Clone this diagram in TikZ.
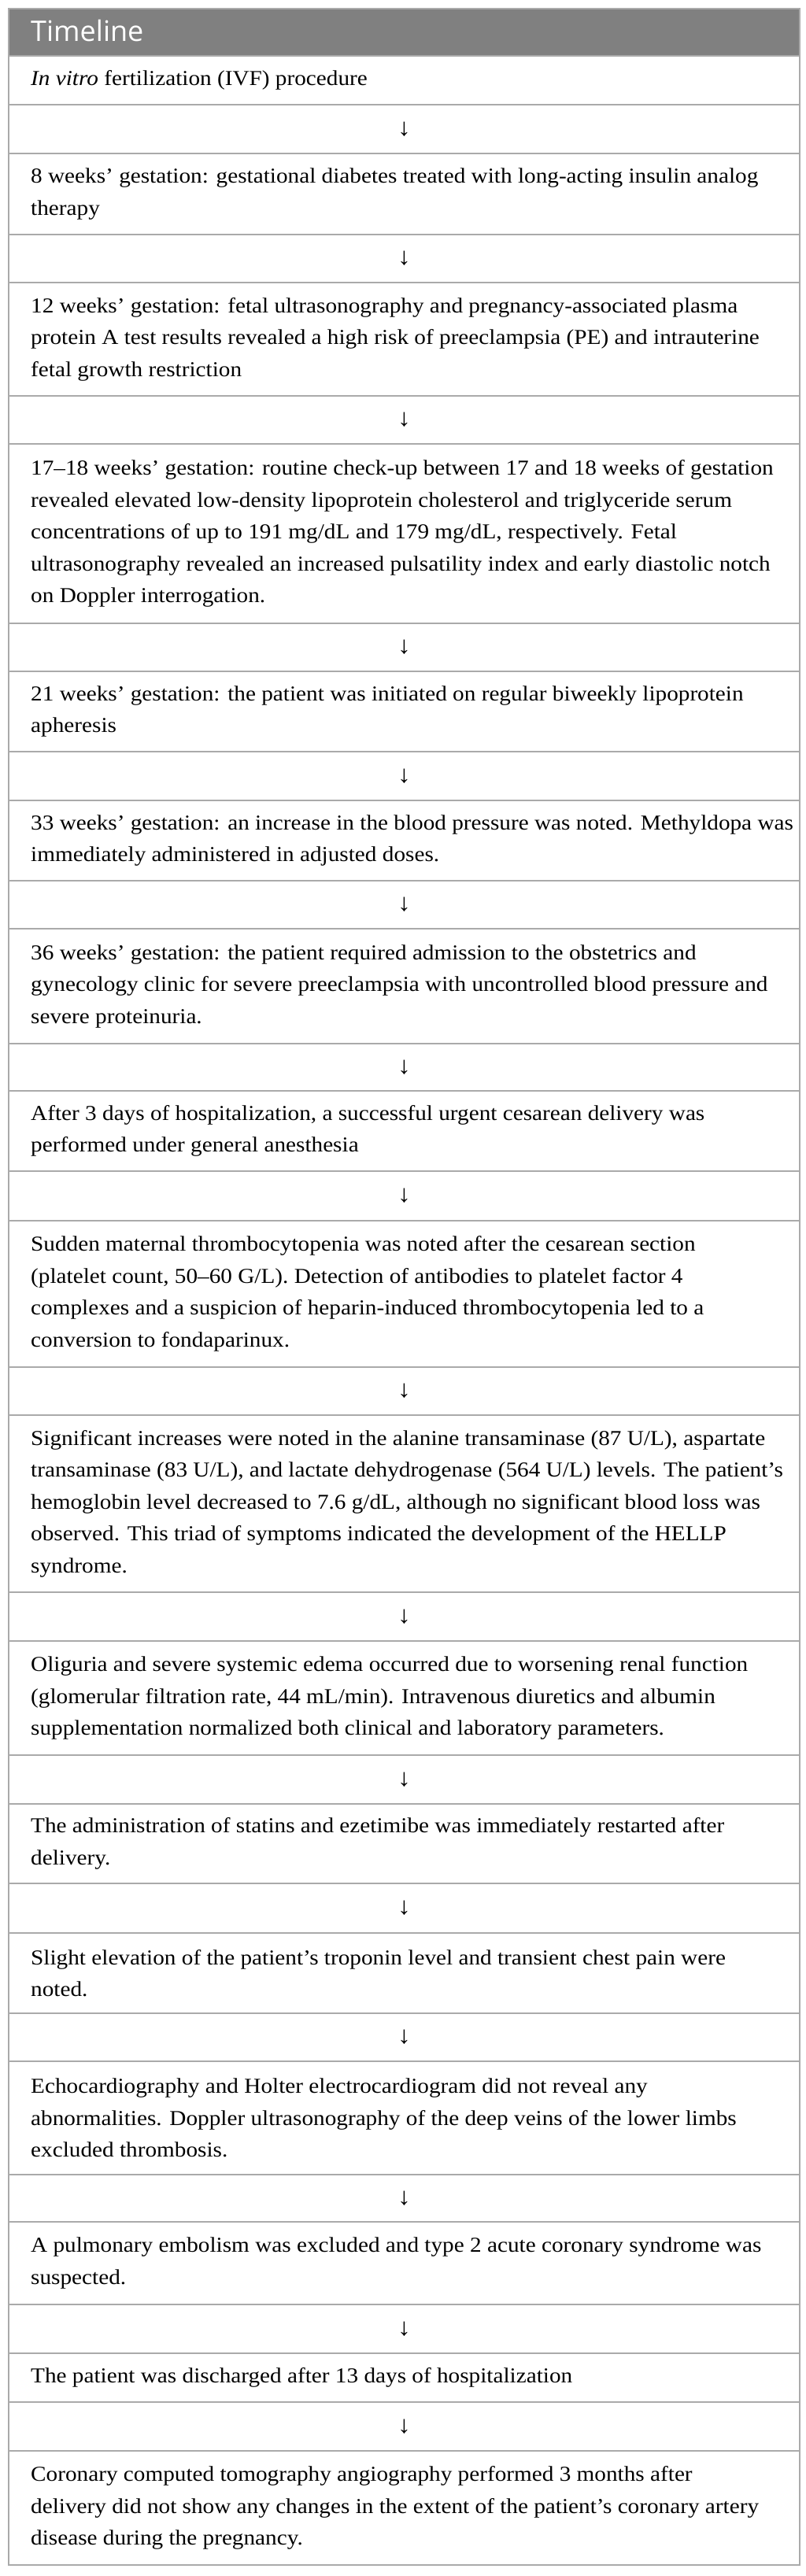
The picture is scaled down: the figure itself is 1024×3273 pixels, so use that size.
\documentclass[tikz,border=0pt]{standalone}
\usepackage{fontspec}
\setmainfont{Liberation Serif}[FakeStretch=1.083]
\newfontfamily\headfont{Open Sans}
\definecolor{rulegray}{RGB}{170,170,170}
\definecolor{headgray}{RGB}{128,128,128}
\begin{document}
\begin{tikzpicture}[x=1pt,y=-1pt,
  cell/.style={anchor=west,inner sep=0pt,align=left,font=\fontsize{27}{40.5}\selectfont},
  arrowcell/.style={anchor=center,inner sep=0pt,font=\fontsize{31}{32}\selectfont},
  rule/.style={draw=rulegray,line width=2pt}]
\useasboundingbox (0,0) rectangle (1024,3273);
% header
\fill[headgray] (11,11) rectangle (1016,71);
\node[anchor=base west,inner sep=0pt,text=white,font=\headfont\fontsize{36}{40}\selectfont] (head) at (39,53) {Timeline};
% rules
\foreach \yy in {71,133,195,298,359,503,564,792,853,955,1017,1119,1180,1326,1386,1488,1551,1737,1798,2023,2085,2230,2292,2393,2456,2558,2619,2763,2823,2928,2990,3052,3114}
  \draw[rule] (11,\yy) -- (1016,\yy);
\draw[rule] (11,11) rectangle (1016,3259);
% text cells
\node[cell] (t1) at (39,102) {\textit{In vitro} fertilization (IVF) procedure};
\node[cell] (t2) at (39,246.5) {8 weeks’ gestation: gestational diabetes treated with long-acting insulin analog\\therapy};
\node[cell] (t3) at (39,431) {12 weeks’ gestation: fetal ultrasonography and pregnancy-associated plasma\\protein A test results revealed a high risk of preeclampsia (PE) and intrauterine\\fetal growth restriction};
\node[cell] (t4) at (39,678) {17–18 weeks’ gestation: routine check-up between 17 and 18 weeks of gestation\\revealed elevated low-density lipoprotein cholesterol and triglyceride serum\\concentrations of up to 191 mg/dL and 179 mg/dL, respectively. Fetal\\ultrasonography revealed an increased pulsatility index and early diastolic notch\\on Doppler interrogation.};
\node[cell] (t5) at (39,904) {21 weeks’ gestation: the patient was initiated on regular biweekly lipoprotein\\apheresis};
\node[cell] (t6) at (39,1068) {33 weeks’ gestation: an increase in the blood pressure was noted. Methyldopa was\\immediately administered in adjusted doses.};
\node[cell] (t7) at (39,1253) {36 weeks’ gestation: the patient required admission to the obstetrics and\\gynecology clinic for severe preeclampsia with uncontrolled blood pressure and\\severe proteinuria.};
\node[cell] (t8) at (39,1437) {After 3 days of hospitalization, a successful urgent cesarean delivery was\\performed under general anesthesia};
\node[cell] (t9) at (39,1644) {Sudden maternal thrombocytopenia was noted after the cesarean section\\(platelet count, 50–60 G/L). Detection of antibodies to platelet factor 4\\complexes and a suspicion of heparin-induced thrombocytopenia led to a\\conversion to fondaparinux.};
\node[cell] (t10) at (39,1910.5) {Significant increases were noted in the alanine transaminase (87 U/L), aspartate\\transaminase (83 U/L), and lactate dehydrogenase (564 U/L) levels. The patient’s\\hemoglobin level decreased to 7.6 g/dL, although no significant blood loss was\\observed. This triad of symptoms indicated the development of the HELLP\\syndrome.};
\node[cell] (t11) at (39,2157.5) {Oliguria and severe systemic edema occurred due to worsening renal function\\(glomerular filtration rate, 44 mL/min). Intravenous diuretics and albumin\\supplementation normalized both clinical and laboratory parameters.};
\node[cell] (t12) at (39,2342.5) {The administration of statins and ezetimibe was immediately restarted after\\delivery.};
\node[cell] (t13) at (39,2507) {Slight elevation of the patient’s troponin level and transient chest pain were\\noted.};
\node[cell] (t14) at (39,2691) {Echocardiography and Holter electrocardiogram did not reveal any\\abnormalities. Doppler ultrasonography of the deep veins of the lower limbs\\excluded thrombosis.};
\node[cell] (t15) at (39,2875.5) {A pulmonary embolism was excluded and type 2 acute coronary syndrome was\\suspected.};
\node[cell] (t16) at (39,3021) {The patient was discharged after 13 days of hospitalization};
\node[cell] (t17) at (39,3186.5) {Coronary computed tomography angiography performed 3 months after\\delivery did not show any changes in the extent of the patient’s coronary artery\\disease during the pregnancy.};
% arrow cells
\node[arrowcell] (a1) at (513.5,164) {↓};
\node[arrowcell] (a2) at (513.5,328.5) {↓};
\node[arrowcell] (a3) at (513.5,533.5) {↓};
\node[arrowcell] (a4) at (513.5,822.5) {↓};
\node[arrowcell] (a5) at (513.5,986) {↓};
\node[arrowcell] (a6) at (513.5,1149.5) {↓};
\node[arrowcell] (a7) at (513.5,1356) {↓};
\node[arrowcell] (a8) at (513.5,1519.5) {↓};
\node[arrowcell] (a9) at (513.5,1767.5) {↓};
\node[arrowcell] (a10) at (513.5,2054) {↓};
\node[arrowcell] (a11) at (513.5,2261) {↓};
\node[arrowcell] (a12) at (513.5,2424.5) {↓};
\node[arrowcell] (a13) at (513.5,2588.5) {↓};
\node[arrowcell] (a14) at (513.5,2793) {↓};
\node[arrowcell] (a15) at (513.5,2959) {↓};
\node[arrowcell] (a16) at (513.5,3083) {↓};
\end{tikzpicture}
\end{document}
